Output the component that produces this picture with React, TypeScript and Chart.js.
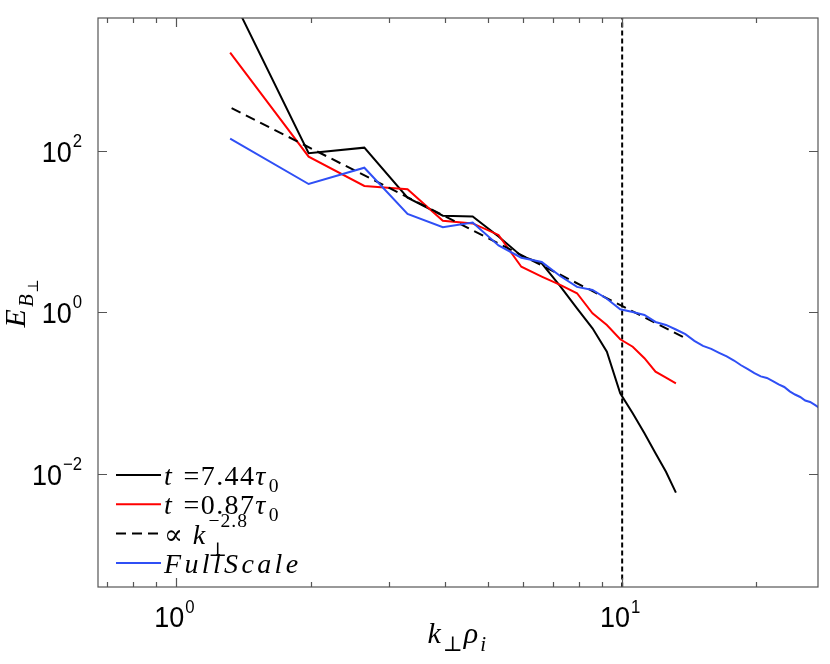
import React, { useEffect, useRef } from "react";
import { Chart, registerables, ChartConfiguration, Plugin } from "chart.js";

Chart.register(...registerables);

// wavenumbers k_perp rho_i
const kShort = [
  1.32, 1.98, 2.64, 3.3, 3.96, 4.62, 5.28, 5.94, 6.6, 7.26, 7.92, 8.58, 9.24,
  9.9, 10.56, 11.22, 11.88, 12.54, 13.2,
];
const kFull = [
  ...kShort, 13.86, 14.52, 15.18, 15.84, 16.5, 17.16, 17.82, 18.48, 19.14,
  19.8, 20.46, 21.12, 21.78, 22.44, 23.1, 23.76, 24.42, 25.08, 25.74, 26.4,
  27.06, 27.72,
];

const late = [
  8900, 92.9, 109, 26.2, 15.7, 15.3, 8.67, 4.98, 4.04, 2.11, 1.12, 0.634,
  0.325, 0.0995, 0.0562, 0.0318, 0.018, 0.0106, 0.00585,
];
const early = [
  1633, 84.3, 36.6, 33.3, 13.6, 12.6, 9.06, 3.66, 2.77, 2.18, 1.72, 0.973,
  0.697, 0.463, 0.375, 0.27, 0.184, 0.155, 0.132,
];
const fullScale = [
  141, 38.7, 61.6, 16.5, 11.3, 12.9, 6.73, 4.74, 4.19, 2.81, 2.06, 1.89, 1.47,
  1.09, 1.01, 0.927, 0.759, 0.697, 0.612, 0.536, 0.443, 0.384, 0.353, 0.315,
  0.284, 0.253, 0.221, 0.198, 0.177, 0.161, 0.154, 0.141, 0.128, 0.119, 0.105,
  0.096, 0.0895, 0.081, 0.0776, 0.0713, 0.0655,
];

// power law guide and the k = 10 marker
const kFit = [1.33, 13.7];
const fitValues = [337, 0.494];
const markerX = [10, 10];
const markerY = [1e-4, 1e4];

const xMajorTicks = [1, 10];
const xMinorTicks = [0.7, 0.8, 0.9, 2, 3, 4, 5, 6, 7, 8, 9, 20];
const yMajorTicks = [1e-2, 1, 1e2];
const xTickExp = ["0", "1"];
const yTickExp = ["\u22122", "0", "2"];

const legendLabels = [
  "t =7.44\u03c4_0",
  "t =0.87\u03c4_0",
  "\u221d k_\u22a5^{\u22122.8}",
  "FullScale",
];
const xTitle = "k_\u22a5\u03c1_i";
const yTitle = "E_{B_\u22a5}";

const SERIF = '"Liberation Serif", "DejaVu Serif", serif';
const SANS = '"Liberation Sans", Arial, sans-serif';
const AXIS = "#555";

const pts = (xs: number[], ys: number[]) => xs.map((x, i) => ({ x, y: ys[i] }));

function readGroup(s: string, i: number): [string, number] {
  if (s[i] === "{") {
    const j = s.indexOf("}", i);
    return [s.slice(i + 1, j), j + 1];
  }
  return [s[i], i + 1];
}

type Spacing = { up: number; it: number };
const TIGHT: Spacing = { up: 0, it: 0.07 };
const LOOSE: Spacing = { up: 0.05, it: 0.12 };

// tiny tex-ish renderer: letters italic, _ and ^ for sub/superscripts
function drawMath(
  ctx: CanvasRenderingContext2D,
  text: string,
  x: number,
  y: number,
  size: number,
  draw = true,
  sp: Spacing = TIGHT
): number {
  let cx = x;
  let i = 0;
  while (i < text.length) {
    const c = text[i];
    if (c === "_" || c === "^") {
      let sub: string | null = null;
      let sup: string | null = null;
      while (i < text.length && (text[i] === "_" || text[i] === "^")) {
        const kind = text[i];
        const [g, ni] = readGroup(text, i + 1);
        if (kind === "_") sub = g;
        else sup = g;
        i = ni;
      }
      const ss = size * 0.7;
      const both = sub !== null && sup !== null;
      let w = 0;
      if (sub) {
        const dy = size * (both ? 0.45 : 0.25);
        w = Math.max(w, drawMath(ctx, sub, cx, y + dy, ss, draw, sp));
      }
      if (sup) {
        const dy = size * (both ? 0.6 : 0.45);
        w = Math.max(w, drawMath(ctx, sup, cx, y - dy, ss, draw, sp));
      }
      cx += w + size * 0.03;
      continue;
    }
    const italic = /[A-Za-z\u03b1-\u03c9]/.test(c);
    ctx.font = `${italic ? "italic " : ""}${size}px ${SERIF}`;
    if (draw) ctx.fillText(c, cx, y);
    cx += ctx.measureText(c).width + size * (italic ? sp.it : sp.up);
    i++;
  }
  return cx - x;
}

// "10" with a raised exponent, slightly condensed like the original export
function drawPow(
  ctx: CanvasRenderingContext2D,
  exp: string,
  x: number,
  base: number,
  supBase: number,
  align: "right" | "center"
) {
  const sx = 0.93;
  ctx.font = `29px ${SANS}`;
  const w10 = ctx.measureText("10").width;
  ctx.font = `18px ${SANS}`;
  const wExp = ctx.measureText(exp).width;
  const total = (w10 + 1 + wExp) * sx;
  const x0 = align === "right" ? x - total : x - total / 2;
  ctx.save();
  ctx.translate(x0, 0);
  ctx.scale(sx, 1);
  ctx.font = `29px ${SANS}`;
  ctx.fillText("10", 0, base);
  ctx.font = `18px ${SANS}`;
  ctx.fillText(exp, w10 + 1, supBase);
  ctx.restore();
}

const frame: Plugin<"line"> = {
  id: "frame",
  afterDraw(chart) {
    const { ctx, chartArea: a } = chart;
    const xs = chart.scales.x;
    const ys = chart.scales.y;
    ctx.save();
    ctx.strokeStyle = AXIS;
    ctx.lineWidth = 1.2;
    ctx.setLineDash([]);
    ctx.strokeRect(a.left, a.top, a.right - a.left, a.bottom - a.top);

    ctx.beginPath();
    const xTick = (v: number, len: number) => {
      const p = Math.round(xs.getPixelForValue(v)) + 0.5;
      ctx.moveTo(p, a.bottom);
      ctx.lineTo(p, a.bottom - len);
      ctx.moveTo(p, a.top);
      ctx.lineTo(p, a.top + len);
    };
    xMajorTicks.forEach((v) => xTick(v, 9));
    xMinorTicks.forEach((v) => xTick(v, 5));
    yMajorTicks.forEach((v) => {
      const p = Math.round(ys.getPixelForValue(v)) + 0.5;
      ctx.moveTo(a.left, p);
      ctx.lineTo(a.left + 9, p);
      ctx.moveTo(a.right, p);
      ctx.lineTo(a.right - 9, p);
    });
    ctx.stroke();

    // tick labels
    ctx.fillStyle = "#000";
    ctx.textBaseline = "alphabetic";
    ctx.textAlign = "left";
    yMajorTicks.forEach((v, i) => {
      const p = ys.getPixelForValue(v);
      drawPow(ctx, yTickExp[i], a.left - 16, p + 11, p - 4, "right");
    });
    xMajorTicks.forEach((v, i) => {
      const p = xs.getPixelForValue(v);
      drawPow(ctx, xTickExp[i], p - 2, a.bottom + 40, a.bottom + 26, "center");
    });

    // axis titles
    const tw = drawMath(ctx, xTitle, 0, 0, 30, false);
    drawMath(ctx, xTitle, (a.left + a.right) / 2 - tw / 2, a.bottom + 56, 30);
    ctx.save();
    ctx.translate(25, (a.top + a.bottom) / 2);
    ctx.rotate(-Math.PI / 2);
    const yw = drawMath(ctx, yTitle, 0, 0, 30, false);
    drawMath(ctx, yTitle, -yw / 2, 0, 30);
    ctx.restore();

    // legend, inside the axes at the lower left
    const items = chart.data.datasets.slice(0, 4);
    items.forEach((ds, i) => {
      const ry = a.bottom - 112 + i * 29.3;
      ctx.beginPath();
      ctx.strokeStyle = ds.borderColor as string;
      ctx.lineWidth = 2;
      ctx.setLineDash((ds.borderDash as number[]) || []);
      ctx.moveTo(a.left + 18, ry);
      ctx.lineTo(a.left + 63, ry);
      ctx.stroke();
      ctx.setLineDash([]);
      ctx.fillStyle = "#000";
      drawMath(ctx, legendLabels[i], a.left + 66, ry + 10, 28, true, LOOSE);
    });
    ctx.restore();
  },
};

const App = () => {
  const chartRef = useRef<HTMLCanvasElement | null>(null);
  const chartInstanceRef = useRef<Chart<"line"> | null>(null);

  useEffect(() => {
    const ctx = chartRef.current?.getContext("2d");
    if (chartInstanceRef.current) chartInstanceRef.current.destroy();
    if (!ctx) return;

    const config: ChartConfiguration<"line"> = {
      type: "line",
      data: {
        datasets: [
          {
            label: legendLabels[0],
            data: pts(kShort, late),
            borderColor: "#000000",
            borderWidth: 2,
            order: 3,
          },
          {
            label: legendLabels[1],
            data: pts(kShort, early),
            borderColor: "#ff0000",
            borderWidth: 2,
            order: 2,
          },
          {
            label: legendLabels[2],
            data: pts(kFit, fitValues),
            borderColor: "#000000",
            borderWidth: 2,
            borderDash: [10, 6],
            order: 1,
          },
          {
            label: legendLabels[3],
            data: pts(kFull, fullScale),
            borderColor: "#2f4ff5",
            borderWidth: 2,
            order: 0,
          },
          {
            label: "k = 10",
            data: pts(markerX, markerY),
            borderColor: "#000000",
            borderWidth: 2,
            borderDash: [5, 3],
            order: 4,
          },
        ],
      },
      options: {
        responsive: true,
        maintainAspectRatio: false,
        animation: false,
        layout: { padding: { left: 0, right: 12, top: 18, bottom: 0 } },
        elements: {
          point: { radius: 0, hoverRadius: 0 },
          line: { tension: 0, fill: false },
        },
        plugins: {
          legend: { display: false },
          tooltip: { enabled: false },
        },
        events: [],
        scales: {
          x: {
            type: "logarithmic",
            min: 0.667,
            max: 27.5,
            grid: { display: false },
            border: { display: false },
            ticks: { display: false },
            afterFit: (s) => {
              s.height = 77;
            },
          },
          y: {
            type: "logarithmic",
            min: 3.98e-4,
            max: 4389,
            grid: { display: false },
            border: { display: false },
            ticks: { display: false },
            afterFit: (s) => {
              s.width = 98;
            },
          },
        },
      },
      plugins: [frame],
    };

    chartInstanceRef.current = new Chart(ctx, config);

    return () => {
      if (chartInstanceRef.current) {
        chartInstanceRef.current.destroy();
        chartInstanceRef.current = null;
      }
    };
  }, []);

  return (
    <div
      style={{
        position: "fixed",
        left: 0,
        top: 0,
        width: 830,
        height: 664,
        background: "#fff",
      }}
    >
      <canvas ref={chartRef} />
    </div>
  );
};

export default App;
